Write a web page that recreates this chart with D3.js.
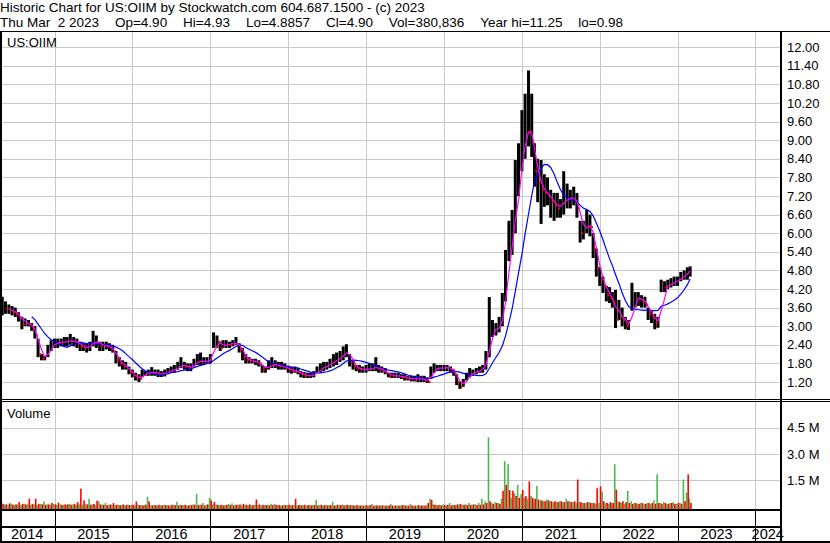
<!DOCTYPE html>
<html>
<head>
<meta charset="utf-8">
<style>
  body { margin: 0; background: #fff; }
  svg { display: block; font-family: "Liberation Sans", Arial, sans-serif; }
  text { fill: #000; }
</style>
</head>
<body>
<script src="https://d3js.org/d3.v7.min.js"></script>
<script>

var width = 830, height = 543;

var header1 = "Historic Chart for US:OIIM by Stockwatch.com 604.687.1500 - (c) 2023";
var header2 = ["Thu Mar\u00a0\u00a02 2023", "Op=4.90", "Hi=4.93", "Lo=4.8857", "Cl=4.90", "Vol=380,836", "Year hi=11.25", "lo=0.98"];
var symbol = "US:OIIM";

// one sample every half month, first one 1 May 2014
var startDate = new Date(2014, 4, 1);

var hi = [
3.95,3.8,3.7,3.65,3.6,3.45,3.3,3.25,3.2,3.1,
3.0,2.6,2.1,2.05,2.4,2.55,2.6,2.6,2.6,2.65,
2.65,2.75,2.65,2.6,2.5,2.45,2.45,2.5,2.85,2.7,
2.5,2.5,2.5,2.45,2.4,2.2,2.0,1.9,1.85,1.7,
1.6,1.5,1.45,1.6,1.55,1.6,1.68,1.6,1.6,1.55,
1.6,1.65,1.7,1.75,1.85,2.0,1.85,1.8,1.8,1.95,
2.1,2.15,2.0,2.0,2.1,2.8,2.7,2.5,2.55,2.55,
2.5,2.55,2.65,2.45,2.3,2.1,2.0,1.95,1.95,1.9,
1.75,1.7,1.9,2.0,1.9,1.85,1.85,1.8,1.73,1.7,
1.7,1.65,1.55,1.52,1.5,1.5,1.55,1.7,1.8,1.85,
1.85,1.95,2.1,2.15,2.2,2.35,2.42,2.1,1.9,1.75,
1.75,1.7,1.75,1.8,1.8,2.0,1.75,1.7,1.65,1.5,
1.5,1.5,1.5,1.45,1.45,1.4,1.4,1.4,1.45,1.4,
1.4,1.35,1.7,1.8,1.75,1.75,1.75,1.75,1.7,1.6,
1.45,1.2,1.3,1.5,1.65,1.6,1.65,1.7,1.75,2.2,
3.94,3.2,3.1,3.3,4.07,5.46,6.4,6.75,8.36,8.9,
9.97,10.5,11.25,10.5,8.9,8.4,8.36,7.9,7.8,7.4,
7.3,7.3,7.1,8.0,7.6,7.4,7.5,7.3,6.4,6.4,
6.75,6.6,6.0,5.5,4.9,4.6,4.3,4.26,4.1,4.17,
3.85,3.6,3.3,3.2,4.4,4.1,4.1,4.0,3.95,3.6,
3.5,3.4,3.3,4.5,4.45,4.5,4.55,4.6,4.6,4.75,
4.8,4.9,4.93];

var lo = [
3.35,3.4,3.4,3.35,3.3,3.15,2.9,3.0,3.0,2.85,
2.6,2.0,1.9,1.9,2.0,2.2,2.3,2.3,2.35,2.35,
2.35,2.4,2.35,2.3,2.2,2.2,2.15,2.2,2.35,2.3,
2.2,2.2,2.25,2.2,2.15,1.8,1.7,1.6,1.6,1.45,
1.35,1.25,1.2,1.35,1.4,1.4,1.4,1.4,1.36,1.36,
1.38,1.45,1.5,1.5,1.6,1.65,1.6,1.55,1.55,1.7,
1.75,1.75,1.75,1.8,1.8,2.3,2.3,2.2,2.3,2.3,
2.3,2.35,2.4,2.15,1.9,1.8,1.8,1.8,1.75,1.7,
1.5,1.5,1.6,1.65,1.65,1.6,1.6,1.6,1.5,1.47,
1.5,1.45,1.35,1.33,1.33,1.33,1.35,1.5,1.5,1.55,
1.6,1.65,1.7,1.75,1.85,1.9,2.0,1.7,1.6,1.55,
1.5,1.5,1.5,1.55,1.55,1.55,1.5,1.5,1.45,1.35,
1.33,1.33,1.33,1.3,1.25,1.25,1.22,1.22,1.2,1.2,
1.2,1.17,1.3,1.5,1.55,1.55,1.55,1.55,1.5,1.4,
1.1,0.98,1.05,1.25,1.35,1.4,1.45,1.5,1.5,1.6,
2.0,2.65,2.7,2.8,3.0,3.8,5.1,5.3,6.0,7.2,
8.0,8.4,8.8,8.46,7.5,7.0,6.3,6.85,6.9,6.5,
6.4,6.5,6.5,6.6,6.8,6.8,6.9,6.5,5.7,5.8,
6.0,5.9,5.2,4.6,4.3,4.07,3.8,3.75,3.6,2.94,
3.2,3.0,2.9,2.88,3.5,3.6,3.65,3.6,3.6,3.2,
3.1,2.9,2.95,4.1,4.1,4.2,4.25,4.3,4.3,4.45,
4.5,4.5,4.6];

var cl = [
3.6,3.55,3.55,3.45,3.4,3.3,3.05,3.15,3.05,2.95,
2.7,2.1,1.95,2.0,2.3,2.4,2.5,2.45,2.5,2.5,
2.5,2.55,2.5,2.45,2.35,2.3,2.3,2.4,2.6,2.45,
2.35,2.4,2.35,2.3,2.2,1.9,1.8,1.7,1.7,1.5,
1.4,1.35,1.3,1.45,1.5,1.5,1.5,1.5,1.45,1.45,
1.5,1.55,1.6,1.6,1.7,1.8,1.7,1.65,1.7,1.85,
1.9,1.85,1.85,1.9,1.95,2.6,2.5,2.3,2.4,2.45,
2.4,2.45,2.5,2.25,2.0,1.9,1.9,1.85,1.85,1.8,
1.6,1.6,1.8,1.75,1.75,1.7,1.7,1.65,1.6,1.55,
1.55,1.5,1.45,1.4,1.4,1.4,1.45,1.6,1.65,1.7,
1.75,1.8,1.9,1.95,2.0,2.15,2.25,1.85,1.7,1.65,
1.6,1.6,1.6,1.65,1.65,1.7,1.6,1.55,1.5,1.4,
1.4,1.4,1.4,1.35,1.35,1.3,1.3,1.3,1.3,1.3,
1.25,1.2,1.6,1.65,1.65,1.65,1.65,1.7,1.6,1.45,
1.2,1.05,1.2,1.4,1.5,1.5,1.55,1.6,1.65,2.0,
2.9,2.9,2.9,3.0,3.6,4.7,5.9,6.0,7.3,7.9,
9.0,9.5,9.3,8.9,8.0,7.6,7.4,7.3,7.2,7.0,
6.9,6.8,6.9,7.2,7.1,7.1,7.2,6.8,6.0,6.1,
6.4,6.2,5.5,4.9,4.5,4.3,4.0,3.9,3.8,3.2,
3.5,3.2,3.0,3.0,3.9,3.9,3.9,3.8,3.7,3.4,
3.3,3.1,3.1,4.3,4.25,4.35,4.4,4.45,4.5,4.6,
4.7,4.75,4.9];

// biggest up-day and down-day volume in each half month, millions
var volUp = [
0.25,0.12,0.1,0.15,0.1,0.12,0.1,0.15,0.12,0.1,
0.12,0.1,0.15,0.29,0.12,0.1,0.15,0.1,0.12,0.1,
0.1,0.15,0.12,0.1,0.12,0.1,0.15,0.44,0.12,0.1,
0.29,0.1,0.2,0.08,0.1,0.08,0.1,0.08,0.06,0.1,
0.08,0.06,0.1,0.08,0.1,0.56,0.08,0.1,0.06,0.08,
0.1,0.08,0.06,0.1,0.27,0.1,0.08,0.06,0.1,0.12,
0.73,0.1,0.2,0.1,0.5,0.12,0.1,0.08,0.1,0.08,
0.15,0.18,0.1,0.08,0.06,0.1,0.08,0.06,0.1,0.08,
0.06,0.08,0.1,0.15,0.15,0.08,0.06,0.1,0.08,0.06,
0.08,0.06,0.1,0.08,0.06,0.08,0.1,0.38,0.08,0.06,
0.1,0.08,0.27,0.06,0.1,0.12,0.08,0.06,0.08,0.06,
0.05,0.06,0.08,0.05,0.15,0.06,0.05,0.08,0.05,0.06,
0.15,0.05,0.06,0.05,0.08,0.06,0.15,0.05,0.06,0.05,
0.06,0.08,0.44,0.12,0.08,0.1,0.12,0.08,0.2,0.1,
0.08,0.12,0.1,0.12,0.2,0.1,0.12,0.2,0.44,0.3,
3.95,0.2,0.25,0.2,0.45,2.58,2.41,0.5,0.76,1.23,
0.7,0.5,0.45,0.6,0.4,1.18,0.35,0.3,0.4,0.3,
0.25,0.27,0.3,0.25,0.44,0.3,0.25,0.2,0.25,0.2,
0.2,0.25,0.2,0.15,0.2,0.85,0.2,0.15,0.2,2.41,
0.3,0.2,0.15,0.89,0.3,0.2,0.15,0.2,0.15,0.2,
0.15,0.35,1.83,0.2,0.25,0.15,0.2,0.25,0.15,0.2,
1.54,0.79,0.45];

var volDn = [
0.15,0.12,0.18,0.1,0.12,0.25,0.15,0.12,0.44,0.15,
0.44,0.15,0.12,0.1,0.12,0.2,0.12,0.22,0.1,0.12,
0.12,0.1,0.15,0.25,1.02,0.35,0.12,0.1,0.15,0.33,
0.12,0.1,0.08,0.12,0.2,0.1,0.08,0.12,0.1,0.08,
0.1,0.29,0.08,0.06,0.1,0.29,0.06,0.08,0.1,0.06,
0.08,0.06,0.1,0.08,0.06,0.08,0.1,0.06,0.08,0.1,
0.08,0.1,0.06,0.12,0.35,0.27,0.1,0.08,0.06,0.1,
0.08,0.06,0.1,0.12,0.15,0.1,0.12,0.08,0.4,0.12,
0.1,0.08,0.06,0.08,0.1,0.08,0.06,0.08,0.1,0.08,
0.44,0.08,0.06,0.1,0.08,0.06,0.08,0.06,0.1,0.08,
0.06,0.08,0.06,0.1,0.08,0.06,0.1,0.08,0.06,0.08,
0.06,0.05,0.06,0.08,0.05,0.06,0.05,0.06,0.05,0.06,
0.05,0.06,0.05,0.08,0.05,0.05,0.06,0.05,0.08,0.06,
0.05,0.2,0.38,0.1,0.08,0.06,0.08,0.1,0.06,0.08,
0.12,0.15,0.1,0.08,0.1,0.12,0.08,0.1,0.12,0.2,
0.3,0.15,0.2,0.15,0.89,1.23,0.93,0.9,0.6,0.5,
0.94,0.6,1.43,0.5,0.45,0.4,0.35,0.3,0.35,0.3,
0.3,0.25,0.3,0.25,0.3,0.25,0.3,1.54,0.25,0.2,
0.25,0.2,0.2,1.04,1.15,0.3,0.2,0.25,0.2,0.96,
0.25,0.3,0.25,0.2,0.15,0.2,0.15,0.2,0.15,0.2,
0.2,0.15,0.2,0.15,0.2,0.15,0.2,0.15,0.2,0.15,
0.3,1.83,0.2];

var priceTicks = [1.2,1.8,2.4,3.0,3.6,4.2,4.8,5.4,6.0,6.6,7.2,7.8,8.4,9.0,9.6,10.2,10.8,11.4,12.0];
var volTicks = [1.5, 3.0, 4.5];
var years = [2014,2015,2016,2017,2018,2019,2020,2021,2022,2023,2024];

// moving average lengths, in half-month samples
var fastLen = 3, slowLen = 10;

// layout
var plotRight = 780;
var priceTop = 31, priceBottom = 399;
var volTop = 402, volBottom = 509;
var header2Right = 623;

var dates = hi.map(function(d, i) {
  return d3.timeDay.offset(d3.timeMonth.offset(startDate, Math.floor(i / 2)), (i % 2) * 15);
});

var x = d3.scaleTime()
    .domain([new Date(2015, 0, 1), new Date(2024, 0, 1)])
    .range([54.5, 755.4]);

var y = d3.scaleLinear().domain([1.2, 12]).range([382, 47.2]);
var yv = d3.scaleLinear().domain([0, 4.5]).range([506.5, 427.5]);

var svg = d3.select("body").append("svg")
    .attr("width", width)
    .attr("height", height);

svg.append("rect").attr("width", width).attr("height", height).attr("fill", "#fff");

// header
svg.append("text").attr("x", 0).attr("y", 12)
    .style("font-size", "13.5px").text(header1);

// second line: fields spread with even gaps up to the right end
var h2 = svg.append("g").style("font-size", "13.5px");
var fields = h2.selectAll("text").data(header2).enter().append("text")
    .attr("y", 27).text(function(d) { return d; });
var widths = fields.nodes().map(function(n) { return n.getComputedTextLength(); });
var gap = (header2Right - d3.sum(widths)) / (header2.length - 1);
var cursor = 0;
fields.attr("x", function(d, i) { var p = cursor; cursor += widths[i] + gap; return p; });

var defs = svg.append("defs");
defs.append("clipPath").attr("id", "clipPrice").append("rect")
    .attr("x", 0).attr("y", priceTop).attr("width", plotRight).attr("height", priceBottom - priceTop);
defs.append("clipPath").attr("id", "clipVol").append("rect")
    .attr("x", 0).attr("y", volTop).attr("width", plotRight).attr("height", volBottom - volTop);

var grid = "#c8c8c8";
var yearStarts = years.slice(1).map(function(yr) { return new Date(yr, 0, 1); });

// price grid
var gp = svg.append("g");
gp.selectAll(".hg").data(priceTicks).enter().append("line")
    .attr("x1", 0).attr("x2", plotRight)
    .attr("y1", function(d) { return Math.round(y(d)) + 0.5; })
    .attr("y2", function(d) { return Math.round(y(d)) + 0.5; })
    .attr("stroke", grid);
gp.selectAll(".vg").data(yearStarts).enter().append("line")
    .attr("x1", function(d) { return Math.round(x(d)) + 0.5; })
    .attr("x2", function(d) { return Math.round(x(d)) + 0.5; })
    .attr("y1", priceTop).attr("y2", priceBottom)
    .attr("stroke", grid);

// volume grid
var gv = svg.append("g");
gv.selectAll("line.h").data(volTicks).enter().append("line")
    .attr("x1", 0).attr("x2", plotRight)
    .attr("y1", function(d) { return Math.round(yv(d)) + 0.5; })
    .attr("y2", function(d) { return Math.round(yv(d)) + 0.5; })
    .attr("stroke", grid);
gv.selectAll("line.v").data(yearStarts).enter().append("line")
    .attr("x1", function(d) { return Math.round(x(d)) + 0.5; })
    .attr("x2", function(d) { return Math.round(x(d)) + 0.5; })
    .attr("y1", volTop).attr("y2", volBottom)
    .attr("stroke", grid);

// price bars
var step = x(dates[1]) - x(dates[0]);
var barW = 3.0;
var price = svg.append("g").attr("clip-path", "url(#clipPrice)");

price.selectAll(".bar").data(hi).enter().append("rect")
    .attr("x", function(d, i) { return x(dates[i]) - barW / 2; })
    .attr("width", barW)
    .attr("y", function(d) { return y(d); })
    .attr("height", function(d, i) { return Math.max(1, y(lo[i]) - y(d)); })
    .attr("fill", "#000");

// red ticks on down closes
cl.forEach(function(c, i) {
  if (i > 0 && c < cl[i - 1]) {
    price.append("rect")
      .attr("x", x(dates[i]) + barW / 2 - 0.5)
      .attr("y", y(c) - 1)
      .attr("width", 2).attr("height", 2)
      .attr("fill", "#ff0000");
  }
});

function movingAvg(n) {
  var out = [];
  for (var i = n - 1; i < cl.length; i++) {
    out.push({ date: dates[i], value: d3.mean(cl.slice(i - n + 1, i + 1)) });
  }
  return out;
}

var line = d3.line()
    .x(function(d) { return x(d.date); })
    .y(function(d) { return y(d.value); });

price.append("path").datum(movingAvg(slowLen))
    .attr("d", line).attr("fill", "none").attr("stroke", "#0000ff").attr("stroke-width", 1.2);
price.append("path").datum(movingAvg(fastLen))
    .attr("d", line).attr("fill", "none").attr("stroke", "#ff00ff").attr("stroke-width", 1.2);

// volume bars: up days left half, down days right half
var vol = svg.append("g").attr("clip-path", "url(#clipVol)");
vol.selectAll(".vu").data(volUp).enter().append("rect")
    .attr("x", function(d, i) { return x(dates[i]) - step / 2; })
    .attr("width", step / 2)
    .attr("y", function(d) { return Math.min(yv(d), volBottom - 1); })
    .attr("height", function(d) { return volBottom - Math.min(yv(d), volBottom - 1); })
    .attr("fill", "#4cb84c");
vol.selectAll(".vd").data(volDn).enter().append("rect")
    .attr("x", function(d, i) { return x(dates[i]); })
    .attr("width", step / 2)
    .attr("y", function(d) { return Math.min(yv(d), volBottom - 1); })
    .attr("height", function(d) { return volBottom - Math.min(yv(d), volBottom - 1); })
    .attr("fill", "#ff0000");

// labels inside panels
svg.append("text").attr("x", 7).attr("y", 47).style("font-size", "13px").text(symbol);
svg.append("text").attr("x", 7).attr("y", 418).style("font-size", "13px").text("Volume");

// right axes
var axP = svg.append("g").attr("transform", "translate(" + plotRight + ",0)")
    .call(d3.axisRight(y).tickValues(priceTicks).tickSize(0).tickPadding(7)
      .tickFormat(d3.format(".2f")));
var axV = svg.append("g").attr("transform", "translate(" + plotRight + ",0)")
    .call(d3.axisRight(yv).tickValues(volTicks).tickSize(0).tickPadding(7)
      .tickFormat(function(d) { return d.toFixed(1) + " M"; }));
[axP, axV].forEach(function(a) {
  a.select(".domain").remove();
  a.selectAll("text").attr("fill", "#000")
    .style("font-size", "13px")
    .style("font-family", "'Liberation Sans', Arial, sans-serif");
});

// year labels, centred in visible part of each year
svg.selectAll(".yr").data(years).enter().append("text")
    .attr("x", function(yr) {
      var a = Math.max(0, x(new Date(yr, 0, 1)));
      var b = Math.min(plotRight, x(new Date(yr + 1, 0, 1)));
      return (a + b) / 2;
    })
    .attr("y", 539)
    .attr("text-anchor", "middle")
    .style("font-size", "14.5px")
    .text(function(d) { return d; });

// frame lines
var frame = svg.append("g").attr("stroke", "#000").attr("fill", "none");
frame.append("line").attr("x1", 0).attr("x2", width).attr("y1", 31.5).attr("y2", 31.5);
frame.append("line").attr("x1", 0).attr("x2", width).attr("y1", 399.5).attr("y2", 399.5);
frame.append("line").attr("x1", 0).attr("x2", width).attr("y1", 401.5).attr("y2", 401.5);
frame.append("line").attr("x1", 0).attr("x2", plotRight).attr("y1", 510).attr("y2", 510).attr("stroke-width", 2);
frame.append("line").attr("x1", 0).attr("x2", plotRight).attr("y1", 527).attr("y2", 527).attr("stroke-width", 2);
frame.append("line").attr("x1", 0).attr("x2", width).attr("y1", 542).attr("y2", 542).attr("stroke-width", 2);
frame.append("line").attr("x1", 1).attr("x2", 1).attr("y1", 31).attr("y2", 543).attr("stroke-width", 2);
frame.append("line").attr("x1", plotRight + 1).attr("x2", plotRight + 1).attr("y1", 31).attr("y2", 543).attr("stroke-width", 2);
frame.selectAll(".ys").data(yearStarts).enter().append("line")
    .attr("x1", function(d) { return Math.round(x(d)) + 0.5; })
    .attr("x2", function(d) { return Math.round(x(d)) + 0.5; })
    .attr("y1", 510).attr("y2", 542);

</script>
</body>
</html>
